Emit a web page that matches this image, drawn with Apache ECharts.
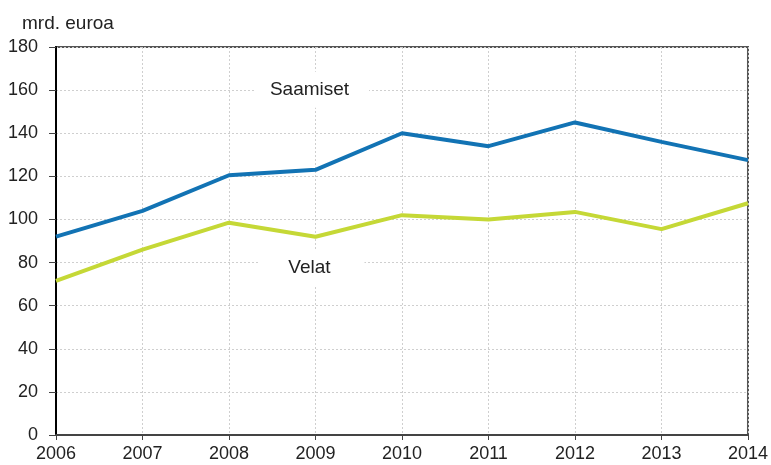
<!DOCTYPE html>
<html>
<head>
<meta charset="utf-8">
<script src="https://cdn.jsdelivr.net/npm/echarts@6/dist/echarts.min.js"></script>
<style>
  html, body { margin: 0; padding: 0; background: #fff; }
  #chart { width: 771px; height: 465px; }
</style>
</head>
<body>
<div id="chart"></div>
<script>
var years = ['2006', '2007', '2008', '2009', '2010', '2011', '2012', '2013', '2014'];
var saamiset = [92, 104, 120.5, 123, 140, 134, 145, 136, 127.5];
var velat = [71.5, 86, 98.5, 92, 102, 100, 103.5, 95.5, 107.5];
var yTicks = [0, 20, 40, 60, 80, 100, 120, 140, 160, 180];

var font = 'Liberation Sans, Arial, sans-serif';
var myChart = echarts.init(document.getElementById('chart'));

// white box with text, sits over the grid lines
function seriesLabel(text, y, w, h) {
  return {
    symbol: 'rect',
    symbolSize: [w, h],
    symbolOffset: [-4, 0],
    itemStyle: { color: '#fff' },
    data: [{ coord: ['2009', y] }],
    label: {
      show: true,
      position: 'inside',
      offset: [-2, 0],
      formatter: text,
      color: '#222',
      fontSize: 19,
      fontFamily: font
    }
  };
}

myChart.setOption({
  animation: false,
  textStyle: { fontFamily: font },
  grid: {
    left: 56, right: 23, top: 47, bottom: 30,
    show: true,
    borderColor: '#555',
    borderWidth: 2
  },
  xAxis: {
    type: 'category',
    data: years,
    boundaryGap: false,
    axisLine: { lineStyle: { color: '#444', width: 2 } },
    axisTick: { show: true, length: 5, lineStyle: { color: '#444' } },
    axisLabel: { color: '#222', fontSize: 18, fontFamily: font, margin: 10 },
    splitLine: { show: true, lineStyle: { color: '#cfcfcf', type: [2, 2] } }
  },
  yAxis: {
    type: 'value',
    min: yTicks[0],
    max: yTicks[yTicks.length - 1],
    interval: 20,
    name: 'mrd. euroa',
    nameLocation: 'end',
    nameGap: 14,
    nameTextStyle: { color: '#222', fontSize: 19, fontFamily: font, align: 'left', padding: [0, 0, 0, -34] },
    axisLine: { show: true, lineStyle: { color: '#000', width: 2 } },
    axisTick: { show: true, length: 7, lineStyle: { color: '#444' } },
    axisLabel: { color: '#222', fontSize: 18, fontFamily: font, margin: 18 },
    splitLine: { show: true, lineStyle: { color: '#cfcfcf', type: [2, 2] } }
  },
  series: [
    {
      name: 'Saamiset',
      type: 'line',
      data: saamiset,
      symbol: 'none',
      lineStyle: { color: '#1273b4', width: 4 },
      markPoint: seriesLabel('Saamiset', 160.2, 115, 36)
    },
    {
      name: 'Velat',
      type: 'line',
      data: velat,
      symbol: 'none',
      lineStyle: { color: '#c5d836', width: 4 },
      markPoint: seriesLabel('Velat', 77.5, 106, 38)
    }
  ]
});
</script>
</body>
</html>
